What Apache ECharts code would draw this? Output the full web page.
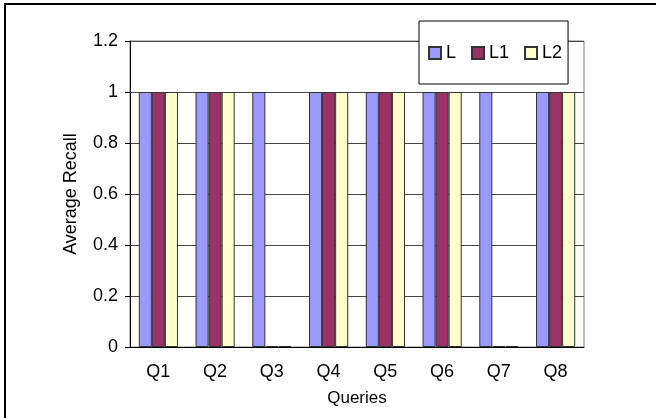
<!DOCTYPE html>
<html>
<head>
<meta charset="utf-8">
<script src="https://cdn.jsdelivr.net/npm/echarts@6/dist/echarts.min.js"></script>
<style>
  html, body { margin: 0; padding: 0; background: #fff; }
  #chart { width: 656px; height: 418px; }
</style>
</head>
<body>
<div id="chart"></div>
<script>
  // data
  const queries = ['Q1', 'Q2', 'Q3', 'Q4', 'Q5', 'Q6', 'Q7', 'Q8']
  const recallL = [1, 1, 1, 1, 1, 1, 1, 1]
  const recallL1 = [1, 1, 0.004, 1, 1, 1, 0.004, 1]
  const recallL2 = [1, 1, 0.004, 1, 1, 1, 0.004, 1]

  const font = 'Liberation Sans, Arial, sans-serif'

  const chart = echarts.init(document.getElementById('chart'))

  const barSeries = (name, data, color) => ({
    name,
    type: 'bar',
    data,
    barGap: 0,
    barCategoryGap: '31%',
    itemStyle: { color, borderColor: '#333', borderWidth: 1 }
  })

  chart.setOption({
    animation: false,
    textStyle: { fontFamily: font },
    // outer frame, only left and top edges fall inside the picture
    graphic: [{
      type: 'rect',
      shape: { x: 5, y: 4, width: 1000, height: 1000 },
      style: { fill: 'none', stroke: '#000', lineWidth: 2 },
      z: 100
    }],
    grid: {
      left: 130,
      right: 72,
      top: 41,
      bottom: 71,
      show: true,
      borderColor: '#808080',
      borderWidth: 1
    },
    legend: {
      left: 419,
      top: 21,
      icon: 'rect',
      padding: [23, 6, 22, 9],
      itemGap: 15,
      itemWidth: 12,
      itemHeight: 12,
      backgroundColor: '#fff',
      borderColor: '#000',
      borderWidth: 1,
      textStyle: { fontSize: 18, color: '#000', fontFamily: font }
    },
    xAxis: {
      type: 'category',
      data: queries,
      name: 'Queries',
      nameLocation: 'middle',
      nameGap: 43,
      nameTextStyle: { fontSize: 17, color: '#000' },
      axisLine: { lineStyle: { color: '#000' } },
      axisTick: { length: 5, lineStyle: { color: '#000' } },
      axisLabel: { fontSize: 18, color: '#000', margin: 16 }
    },
    yAxis: {
      type: 'value',
      min: 0,
      max: 1.2,
      interval: 0.2,
      name: 'Average Recall',
      nameLocation: 'middle',
      nameGap: 50,
      nameTextStyle: { fontSize: 18, color: '#000' },
      axisLine: { show: true, lineStyle: { color: '#000' } },
      axisTick: { show: true, length: 5, lineStyle: { color: '#000' } },
      axisLabel: { fontSize: 18, color: '#000', margin: 12 },
      splitLine: { show: true, lineStyle: { color: '#444', width: 1 } }
    },
    series: [
      barSeries('L', recallL, '#9999ff'),
      barSeries('L1', recallL1, '#993366'),
      barSeries('L2', recallL2, '#ffffcc')
    ]
  })
</script>
</body>
</html>
